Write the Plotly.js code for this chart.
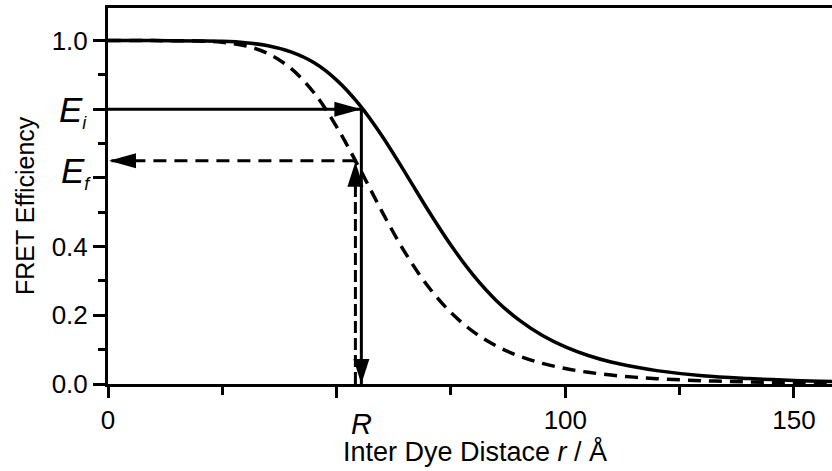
<!DOCTYPE html>
<html>
<head>
<meta charset="utf-8">
<script src="https://cdn.plot.ly/plotly-3.0.1.min.js"></script>
<style>
  html, body { margin: 0; padding: 0; overflow: hidden; background: #fff; }
  #chart { width: 852px; height: 471px; }
</style>
</head>
<body>
<div id="chart"></div>
<script>
// Inter-dye distance r (Å)
const distance = [0, 10, 20, 25, 30, 35, 40, 45, 50, 55, 60, 65, 70, 75, 80, 85, 90, 95, 100, 105, 110, 115, 120, 130, 140, 150, 160];
// FRET efficiency, initial state (solid curve)
const efficiencyInitial = [1.000, 1.000, 0.999, 0.998, 0.994, 0.985, 0.967, 0.936, 0.885, 0.813, 0.721, 0.615, 0.506, 0.404, 0.315, 0.242, 0.185, 0.141, 0.108, 0.083, 0.064, 0.050, 0.039, 0.024, 0.016, 0.0105, 0.0071];
// FRET efficiency, final state (dashed curve)
const efficiencyFinal = [1.000, 1.000, 0.999, 0.995, 0.985, 0.962, 0.919, 0.849, 0.749, 0.628, 0.500, 0.382, 0.284, 0.208, 0.151, 0.110, 0.081, 0.060, 0.045, 0.034, 0.026, 0.020, 0.0154, 0.0096, 0.0062, 0.0041, 0.0028];

// Read-out markers
const rMarker = 55.4;        // distance R (solid guide)
const rMarkerFinal = 54.1;   // dashed guide, drawn beside it
const eInitial = 0.80;       // E_i
const eFinal = 0.65;         // E_f

// Tick labels
const xTickVals = [0, 50, 100, 150];
const xTickText = ['0', '', '100', '150'];
const yTickVals = [0, 0.2, 0.4, 0.6, 0.8, 1.0];
const yTickText = ['0.0', '0.2', '0.4', '', '', '1.0'];

const FONT = 'Liberation Sans, Arial, sans-serif';
const black = '#000';

function guide(x, y, dash) {
  return {
    x: x, y: y, mode: 'lines', hoverinfo: 'skip',
    line: { color: black, width: 3, dash: dash || 'solid' }
  };
}

const traces = [
  { x: distance, y: efficiencyInitial, mode: 'lines', line: { color: black, width: 3.5, shape: 'spline', smoothing: 1 } },
  { x: distance, y: efficiencyFinal, mode: 'lines', line: { color: black, width: 3.5, shape: 'spline', smoothing: 1, dash: '13px,8px' } },
  guide([0, rMarker], [eInitial, eInitial]),
  guide([rMarker, rMarker], [eInitial, 0]),
  guide([rMarkerFinal, 0], [eFinal, eFinal], '13px,8px'),
  guide([rMarkerFinal, rMarkerFinal], [0, eFinal], '12px,5px')
];

// Arrowheads: pixel-sized paths anchored at data points
function head(xa, ya, path) {
  return {
    type: 'path', xref: 'x', yref: 'y',
    xsizemode: 'pixel', ysizemode: 'pixel',
    xanchor: xa, yanchor: ya, path: path,
    fillcolor: black, line: { width: 0 }, layer: 'above'
  };
}

const shapes = [
  head(rMarker, eInitial, 'M0,0 L-27,7.5 L-27,-7.5 Z'),      // pointing right
  head(rMarker, 0, 'M0,0 L-8,25 L8,25 Z'),                   // pointing down
  head(0, eFinal, 'M1,0 L28,7.5 L28,-7.5 Z'),                // pointing left
  head(rMarkerFinal, eFinal, 'M0,-1 L-8,-26 L8,-26 Z')       // pointing up
];

const annotations = [
  {
    xref: 'paper', yref: 'y', x: 0, y: eInitial, xanchor: 'left', yanchor: 'middle',
    xshift: -51, yshift: -2, showarrow: false,
    text: '<i>E</i><sub><span style="font-size:18px"><i>i</i></span></sub>',
    font: { family: FONT, size: 35, color: black }
  },
  {
    xref: 'paper', yref: 'y', x: 0, y: eFinal, xanchor: 'left', yanchor: 'middle',
    xshift: -49, yshift: -12, showarrow: false,
    text: '<i>E</i><sub><span style="font-size:18px"><i>f</i></span></sub>',
    font: { family: FONT, size: 35, color: black }
  },
  {
    xref: 'x', yref: 'paper', x: rMarker, y: 0, xanchor: 'center', yanchor: 'top',
    yshift: -22, showarrow: false,
    text: '<i>R</i>',
    font: { family: FONT, size: 29, color: black }
  },
  {
    // y-axis title
    xref: 'paper', yref: 'paper', x: 0, y: 0.5, xanchor: 'center', yanchor: 'middle',
    xshift: -83, yshift: -10, textangle: -90, showarrow: false,
    text: 'FRET Efficiency',
    font: { family: FONT, size: 25, color: black }
  }
];

const axisCommon = {
  showline: true, linecolor: black, linewidth: 3, mirror: true,
  ticks: 'outside', tickcolor: black, tickwidth: 3,
  showgrid: false, zeroline: false,
  tickfont: { family: FONT, size: 26, color: black }
};

const layout = {
  width: 852, height: 471,
  margin: { l: 108, r: 10, t: 8, b: 87 },
  paper_bgcolor: '#fff', plot_bgcolor: '#fff',
  showlegend: false,
  font: { family: FONT, color: black },
  xaxis: Object.assign({}, axisCommon, {
    range: [0, 160.5],
    tickmode: 'array', tickvals: xTickVals, ticktext: xTickText, ticklen: 11,
    minor: { tick0: 0, dtick: 25, ticks: 'outside', ticklen: 8, tickwidth: 3, tickcolor: black },
    title: { text: 'Inter Dye Distace <i>r</i> / Å', font: { family: FONT, size: 27, color: black }, standoff: 8 }
  }),
  yaxis: Object.assign({}, axisCommon, {
    range: [0, 1.095],
    tickmode: 'array', tickvals: yTickVals, ticktext: yTickText, ticklen: 12,
    minor: { tick0: 0, dtick: 0.1, ticks: 'outside', ticklen: 7, tickwidth: 3, tickcolor: black }
  }),
  shapes: shapes,
  annotations: annotations
};

Plotly.newPlot('chart', traces, layout, { staticPlot: true, displayModeBar: false });
</script>
</body>
</html>
